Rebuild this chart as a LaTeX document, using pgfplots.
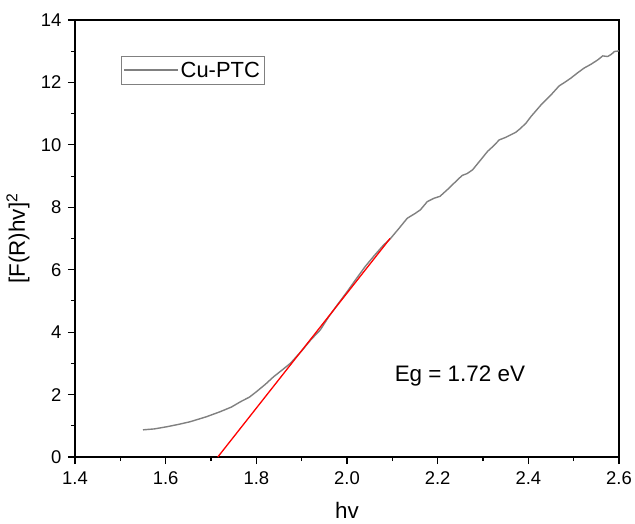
\documentclass[border=0pt]{standalone}
\usepackage{pgfplots}
\pgfplotsset{compat=1.18}
\usepackage{fontspec}
\setmainfont{Liberation Sans}
\definecolor{curvegray}{RGB}{128,128,128}
\begin{document}
\begin{tikzpicture}
\begin{axis}[
  scale only axis,
  width=544bp, height=437bp,
  xmin=1.4, xmax=2.6, ymin=0, ymax=14,
  xtick={1.4,1.6,...,2.6},
  ytick={0,2,...,14},
  minor x tick num=1, minor y tick num=1,
  axis line style={line width=1.2bp},
  tick style={line width=1.1bp, black},
  major tick length=7bp, minor tick length=4bp,
  tick align=outside,
  xtick pos=bottom, ytick pos=left,
  /pgf/number format/assume math mode=true,
  tick label style={font=\fontsize{18.5}{22}\selectfont},
  xticklabel style={yshift=-4bp, /pgf/number format/.cd, fixed, fixed zerofill, precision=1},
  yticklabel style={xshift=-3bp, /pgf/number format/.cd, fixed, precision=0},
  xlabel={hv}, ylabel={[F(R)hv]\textsuperscript{2}},
  label style={font=\fontsize{22.5}{26}\selectfont},
  xlabel style={at={(axis description cs:0.5,-0.122)}, anchor=center},
  ylabel style={at={(axis description cs:-0.105,0.5)}, anchor=center, rotate=0},
  legend style={at={(axis description cs:0.0846,0.9176)}, anchor=north west,
    draw=curvegray, line width=0.6bp, font=\fontsize{22}{26}\selectfont,
    inner xsep=2bp, inner ysep=3.5bp},
  legend cell align=left,
  legend image code/.code={\draw[#1] (2bp,0bp) -- (56bp,0bp);},
]
\addplot[curvegray, line width=1.4bp] coordinates {
(1.550,0.87) (1.575,0.90) (1.603,0.97) (1.630,1.05) (1.654,1.13) (1.690,1.29)
(1.720,1.45) (1.745,1.60) (1.765,1.77) (1.785,1.92) (1.800,2.09) (1.820,2.33)
(1.838,2.57) (1.858,2.80) (1.875,3.00) (1.900,3.40) (1.920,3.75) (1.941,4.07)
(1.960,4.50) (1.980,4.90) (2.000,5.29) (2.020,5.70) (2.040,6.10) (2.060,6.45)
(2.080,6.78) (2.096,7.00) (2.115,7.33) (2.133,7.65) (2.150,7.80) (2.162,7.92)
(2.177,8.18) (2.192,8.29) (2.205,8.35) (2.221,8.56) (2.236,8.77) (2.254,9.02)
(2.265,9.08) (2.277,9.20) (2.295,9.52) (2.310,9.79) (2.322,9.95) (2.336,10.16)
(2.350,10.24) (2.361,10.32) (2.372,10.40) (2.383,10.53) (2.395,10.70) (2.406,10.91)
(2.428,11.28) (2.450,11.60) (2.468,11.89) (2.480,12.00) (2.494,12.14) (2.508,12.30)
(2.523,12.46) (2.538,12.58) (2.553,12.72) (2.564,12.85) (2.575,12.83) (2.583,12.90)
(2.590,12.99) (2.600,13.01)
};
\addlegendentry{Cu-PTC}
\addplot[red, line width=1.3bp, forget plot] coordinates {(1.715,0) (2.095,7.0)};
\node[font=\fontsize{22.5}{26}\selectfont] at (axis cs:2.249,2.6) {Eg = 1.72 eV};
\end{axis}
\pgfresetboundingbox
\path (-75bp,-67bp) rectangle (560bp,457bp);
\end{tikzpicture}
\end{document}
